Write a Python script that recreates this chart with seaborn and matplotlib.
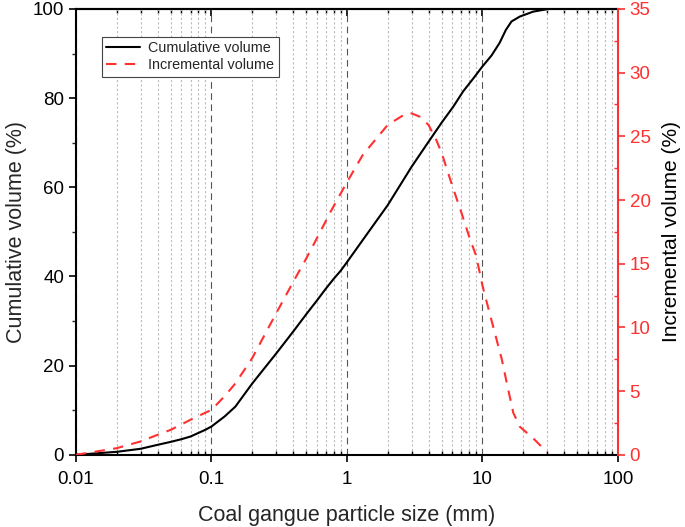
import matplotlib
matplotlib.use("Agg")
import matplotlib.pyplot as plt
import seaborn as sns
import pandas as pd
import numpy as np
from matplotlib.ticker import LogLocator, FixedLocator, MultipleLocator, FuncFormatter, NullFormatter

# ---- data ----
cum_size = [0.01, 0.02, 0.03, 0.04, 0.05, 0.06, 0.07, 0.08, 0.09, 0.1, 0.125, 0.15, 0.2,
            0.3, 0.4, 0.5, 0.6, 0.7, 0.8, 0.9, 1.0, 1.31, 2.0, 3.0, 4.0, 5.0, 6.1, 7.2,
            8.56, 10.0, 11.7, 13.4, 14.9, 16.4, 18.9, 23.7, 30.0]
cum_vol = [0.0, 0.67, 1.35, 2.24, 2.9, 3.5, 4.1, 4.9, 5.6, 6.35, 8.6, 10.8, 16.0,
           22.7, 27.6, 31.5, 34.6, 37.3, 39.5, 41.3, 43.2, 48.2, 56.0, 64.6, 70.2, 74.5,
           78.1, 81.5, 84.4, 87.1, 89.6, 92.4, 95.3, 97.2, 98.3, 99.4, 99.95]

inc_size = [0.01, 0.02, 0.03, 0.04, 0.05, 0.07, 0.09, 0.1, 0.125, 0.15, 0.2, 0.3, 0.4,
            0.5, 0.6, 0.75, 1.0, 1.31, 2.0, 2.74, 3.0, 3.44, 4.0, 4.57, 5.0, 6.0, 7.0,
            8.0, 9.0, 10.0, 11.0, 12.4, 13.9, 15.3, 16.9, 18.9, 23.7, 30.0]
inc_vol = [0.0, 0.52, 1.05, 1.57, 1.96, 2.75, 3.3, 3.53, 4.6, 5.6, 7.6, 11.1, 13.55,
           15.4, 17.0, 19.0, 21.4, 23.55, 25.9, 26.8, 26.8, 26.55, 25.9, 24.7, 23.7, 21.1,
           19.0, 17.1, 15.6, 13.3, 11.6, 9.5, 7.5, 5.4, 3.3, 2.2, 1.3, 0.2]

x_ticks = [0.01, 0.1, 1, 10, 100]
x_tick_labels = ["0.01", "0.1", "1", "10", "100"]
left_ticks = [0, 20, 40, 60, 80, 100]
right_ticks = [0, 5, 10, 15, 20, 25, 30, 35]

labels = ["Cumulative volume", "Incremental volume"]
xlabel = "Coal gangue particle size (mm)"
ylabel_left = "Cumulative volume (%)"
ylabel_right = "Incremental volume (%)"

RED = "#ff3030"

sns.set_theme(style="white")
plt.rcParams['font.family'] = ['Liberation Sans', 'DejaVu Sans']

fig = plt.figure(figsize=(6.85, 5.27), dpi=100)
ax = fig.add_axes([0.111, 0.137, 0.791, 0.846])
ax2 = ax.twinx()

df_cum = pd.DataFrame({"size": cum_size, "vol": cum_vol})
df_inc = pd.DataFrame({"size": inc_size, "vol": inc_vol})

sns.lineplot(data=df_cum, x="size", y="vol", ax=ax, color="black", lw=1.5,
             label=labels[0], legend=False)
sns.lineplot(data=df_inc, x="size", y="vol", ax=ax2, color=RED, lw=1.5,
             label=labels[1], legend=False, linestyle=(0, (5, 4)))

ax.set_xscale("log")
ax.set_xlim(0.01, 100)
ax.set_ylim(0, 100)
ax2.set_ylim(0, 35)

# grids
ax.xaxis.set_major_locator(FixedLocator(x_ticks))
ax.xaxis.set_minor_locator(LogLocator(base=10, subs=np.arange(2, 10), numticks=20))
ax.xaxis.set_major_formatter(FuncFormatter(lambda v, p: x_tick_labels[x_ticks.index(v)] if v in x_ticks else ""))
ax.xaxis.set_minor_formatter(NullFormatter())
ax.grid(True, which="major", axis="x", color="#555555", ls=(0, (6, 4)), lw=0.8)
ax.grid(True, which="minor", axis="x", color="#bbbbbb", ls=(0, (2, 2)), lw=0.8)
ax.grid(False, axis="y")
ax2.grid(False)
ax.set_axisbelow(True)

ax.yaxis.set_major_locator(FixedLocator(left_ticks))
ax.yaxis.set_minor_locator(MultipleLocator(10))
ax2.yaxis.set_major_locator(FixedLocator(right_ticks))
ax2.yaxis.set_minor_locator(MultipleLocator(2.5))

ax.tick_params(axis="x", which="major", direction="out", length=5, width=1.2,
               labelsize=13.5, colors="black", top=False, bottom=True, pad=7)
ax.tick_params(axis="x", which="minor", direction="in", length=3, width=1.0,
               top=False, bottom=True, colors="black")
ax.tick_params(axis="y", which="major", direction="out", length=5, width=1.2,
               labelsize=13.5, colors="black", left=True)
ax.tick_params(axis="y", which="minor", direction="out", length=3, width=1.0, left=True)
ax2.tick_params(axis="y", which="major", direction="out", length=5, width=1.2,
                labelsize=13.5, colors=RED, right=True)
ax2.tick_params(axis="y", which="minor", direction="in", length=3, width=1.0,
                colors=RED, right=True)

# top axis ticks pointing inward
top = ax.secondary_xaxis("top")
top.xaxis.set_major_locator(FixedLocator(x_ticks))
top.xaxis.set_minor_locator(LogLocator(base=10, subs=np.arange(2, 10), numticks=20))
top.xaxis.set_major_formatter(NullFormatter())
top.xaxis.set_minor_formatter(NullFormatter())
top.tick_params(axis="x", which="major", direction="in", length=5, width=1.2, colors="black")
top.tick_params(axis="x", which="minor", direction="in", length=3, width=1.0, colors="black")
top.spines["top"].set_color("black")
top.spines["top"].set_linewidth(1.5)

for s in ["left", "bottom", "top"]:
    ax.spines[s].set_color("black")
    ax.spines[s].set_linewidth(1.5)
ax.spines["right"].set_visible(False)
for s in ["left", "bottom", "top"]:
    ax2.spines[s].set_visible(False)
ax2.spines["right"].set_color(RED)
ax2.spines["right"].set_linewidth(1.5)

ax.set_xlabel(xlabel, fontsize=15.5, labelpad=12)
ax.set_ylabel(ylabel_left, fontsize=15.5, labelpad=4)
ax2.set_ylabel(ylabel_right, fontsize=15, color="black", labelpad=8)

h1, l1 = ax.get_legend_handles_labels()
h2, l2 = ax2.get_legend_handles_labels()
leg = ax2.legend(h1 + h2, l1 + l2, loc="upper left", bbox_to_anchor=(0.048, 0.937),
                 fontsize=10.4, frameon=True, fancybox=False, edgecolor="#444444",
                 framealpha=1, borderpad=0.3, handlelength=2.3, labelspacing=0.2,
                 borderaxespad=0, handletextpad=0.6)
leg.get_frame().set_linewidth(0.8)

fig.savefig("out.png", dpi=100)
